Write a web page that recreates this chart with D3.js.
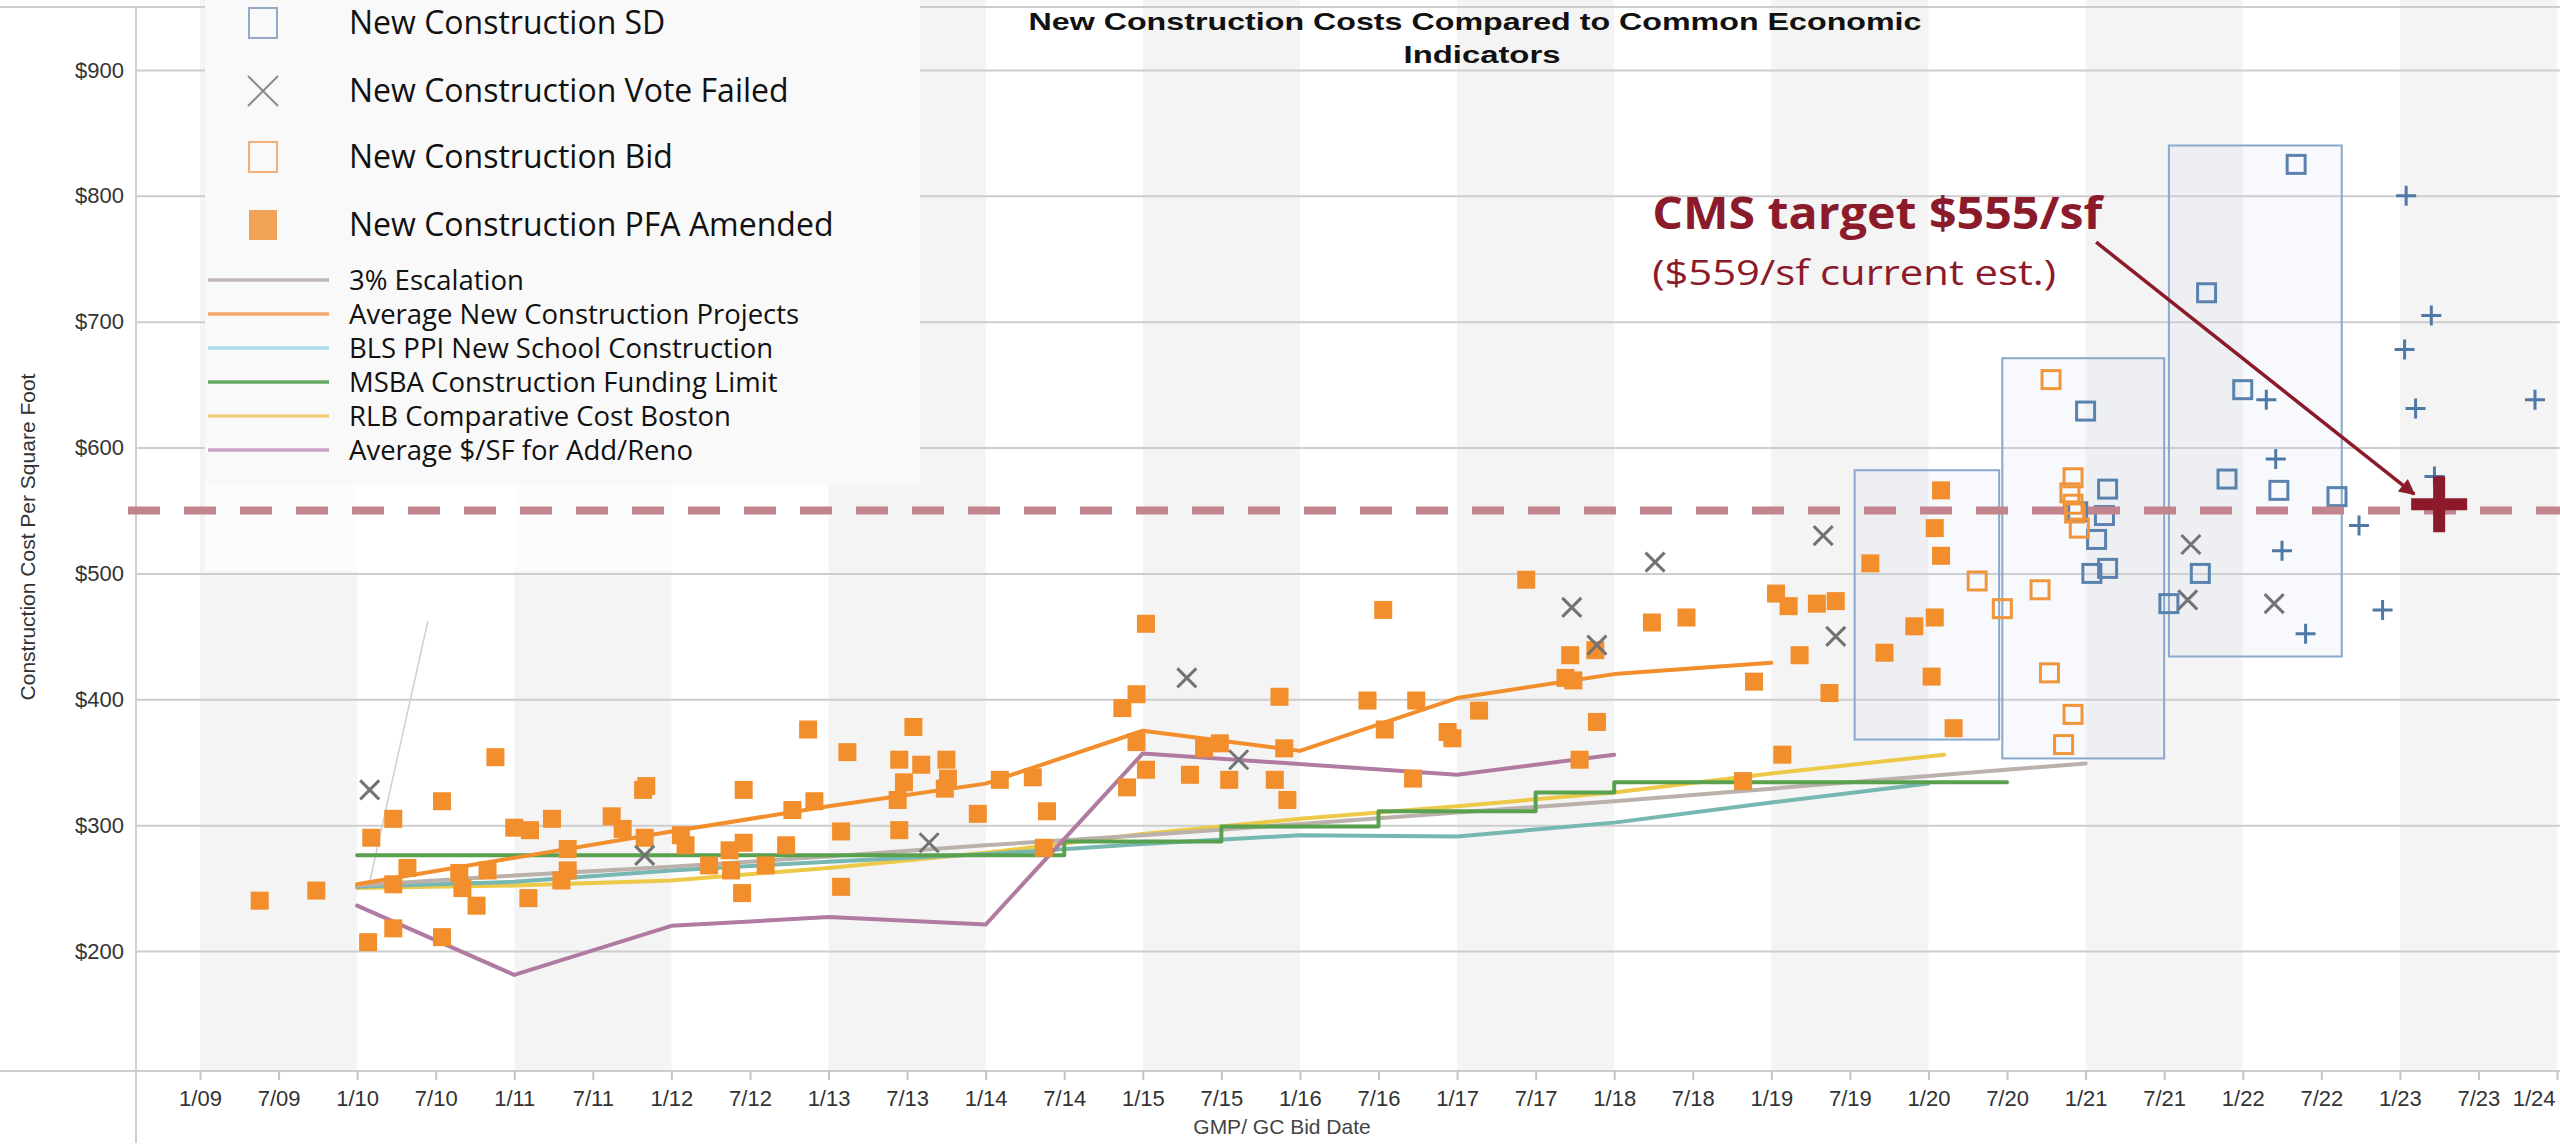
<!DOCTYPE html>
<html>
<head>
<meta charset="utf-8">
<script src="https://cdn.jsdelivr.net/npm/d3@7"></script>
<style>
  html, body { margin: 0; padding: 0; background: #fff; }
  svg { display: block; }
  .axis text { font-family: "Liberation Sans", Arial, sans-serif; font-size: 22px; fill: #333; }
  .legend text { font-family: "Open Sans", sans-serif; fill: #111; }
</style>
</head>
<body>
<div id="chart"></div>
<script>
// ticks and labels
const xTickValues = [2009, 2009.5, 2010, 2010.5, 2011, 2011.5, 2012, 2012.5, 2013, 2013.5, 2014, 2014.5,
  2015, 2015.5, 2016, 2016.5, 2017, 2017.5, 2018, 2018.5, 2019, 2019.5, 2020, 2020.5, 2021, 2021.5,
  2022, 2022.5, 2023, 2023.5, 2024];
const xTickLabels = ["1/09", "7/09", "1/10", "7/10", "1/11", "7/11", "1/12", "7/12", "1/13", "7/13", "1/14", "7/14",
  "1/15", "7/15", "1/16", "7/16", "1/17", "7/17", "1/18", "7/18", "1/19", "7/19", "1/20", "7/20", "1/21", "7/21",
  "1/22", "7/22", "1/23", "7/23", "1/24"];
const yTickValues = [200, 300, 400, 500, 600, 700, 800, 900];
const yTickLabels = ["$200", "$300", "$400", "$500", "$600", "$700", "$800", "$900"];
const shadedYears = [2009, 2011, 2013, 2015, 2017, 2019, 2021, 2023];

// scatter series: [bid date as decimal year, $ per sq ft]
const pfaAmended = [
  [2009.38, 240], [2009.74, 248], [2010.07, 207], [2010.09, 290], [2010.23, 305], [2010.23, 218], [2010.23, 253],
  [2010.32, 266], [2010.54, 319], [2010.54, 211], [2010.65, 262], [2010.67, 250], [2010.76, 236], [2010.83, 264],
  [2010.88, 354], [2011.0, 298], [2011.1, 296], [2011.09, 242], [2011.24, 305], [2011.34, 281], [2011.34, 264],
  [2011.30, 256], [2011.62, 307], [2011.69, 297], [2011.84, 331], [2011.82, 328], [2011.83, 290], [2012.06, 292],
  [2012.09, 284], [2012.24, 268], [2012.37, 280], [2012.38, 264], [2012.45, 246], [2012.46, 328], [2012.46, 286],
  [2012.6, 268], [2012.73, 284], [2012.77, 312], [2012.87, 376], [2012.91, 319], [2013.08, 295], [2013.08, 251],
  [2013.12, 358], [2013.45, 352], [2013.45, 296], [2013.44, 320], [2013.48, 334], [2013.54, 378], [2013.59, 348],
  [2013.75, 352], [2013.76, 337], [2013.74, 329], [2013.95, 309], [2014.09, 336], [2014.3, 338], [2014.39, 311],
  [2014.37, 282], [2014.87, 393], [2014.96, 404], [2015.02, 460], [2014.96, 366], [2015.02, 344], [2014.9, 330],
  [2015.39, 361], [2015.49, 365], [2015.3, 340], [2015.55, 336], [2015.87, 402], [2015.9, 361], [2015.84, 336],
  [2015.92, 320], [2016.53, 471], [2016.43, 399], [2016.54, 376], [2016.74, 399], [2016.94, 374], [2016.97, 369],
  [2016.72, 337], [2017.14, 391], [2017.44, 495], [2017.72, 435], [2017.69, 417], [2017.74, 415], [2017.88, 439],
  [2017.89, 382], [2017.78, 352], [2018.24, 461], [2018.46, 465], [2018.89, 414], [2018.82, 335], [2019.03, 484],
  [2019.11, 474], [2019.29, 476], [2019.41, 478], [2019.18, 435], [2019.37, 405], [2019.07, 356], [2019.63, 508],
  [2019.72, 437], [2019.91, 458], [2020.04, 465], [2020.02, 418], [2020.16, 377], [2020.08, 566], [2020.04, 536],
  [2020.08, 514]
];
const bidPoints = [
  [2020.78, 654], [2020.92, 576], [2020.9, 564], [2020.92, 555], [2020.93, 548], [2020.96, 536], [2020.31, 494],
  [2020.47, 472], [2020.71, 487], [2020.77, 421], [2020.92, 388], [2020.86, 364]
];
const sdPoints = [
  [2022.34, 825], [2021.77, 723], [2022.0, 646], [2021.9, 575], [2022.23, 566], [2022.6, 561], [2021.73, 500],
  [2021.53, 476], [2021.0, 629], [2021.14, 567], [2021.12, 546], [2021.07, 527], [2021.14, 504], [2021.04, 500],
  [2020.95, 549]
];
const voteFailed = [
  [2010.08, 328], [2011.83, 276], [2013.64, 286], [2015.28, 417], [2015.61, 352], [2017.73, 473], [2017.89, 443],
  [2018.26, 509], [2019.33, 530], [2019.41, 450], [2021.67, 523], [2021.65, 479], [2022.2, 476]
];
const estimatePoints = [
  [2023.04, 800], [2023.2, 705], [2023.03, 678], [2022.15, 638], [2023.1, 631], [2023.86, 638], [2022.21, 591],
  [2023.22, 577], [2022.74, 538], [2022.25, 518], [2022.89, 471], [2022.4, 452]
];
// SD range boxes: [start, end, low, high]
const sdRanges = [
  [2019.53, 2020.45, 368, 582],
  [2020.47, 2021.5, 353, 671],
  [2021.53, 2022.63, 434, 840]
];

// line series
const escalation3 = [[2010, 252], [2011, 260], [2012, 267], [2013, 275], [2014, 284], [2015, 292], [2016, 301],
  [2017, 310], [2018, 319], [2019, 329], [2020, 339], [2021, 349]];
const avgNewConstruction = [[2010, 253], [2011, 274], [2012, 295], [2013, 315], [2014, 333], [2015, 375],
  [2015.5, 367], [2016, 359], [2017, 401], [2018, 420], [2019, 429]];
const blsPpi = [[2010, 251], [2011, 255], [2012, 264], [2013, 271], [2014, 277], [2015, 285], [2016, 292],
  [2017, 291], [2018, 302], [2019, 318], [2020, 333]];
const msbaLimit = [[2010, 276], [2014.5, 287], [2015.5, 299], [2016.5, 311], [2017.5, 326], [2018, 334], [2020.5, 334]];
const rlbBoston = [[2010, 250], [2011, 252], [2012, 256], [2013, 266], [2014, 278], [2015, 293], [2016, 305],
  [2017, 315], [2018, 326], [2019, 341], [2020.1, 356]];
const avgAddReno = [[2010, 236], [2011, 181], [2012, 220], [2013, 227], [2014, 221], [2015, 357], [2017, 340], [2018, 356]];

const targetLineValue = 550;
const targetPoint = [2023.25, 555];
const leaderStub = [[2010.08, 255], [2010.45, 462]];

const legendMarkerLabels = ["New Construction SD", "New Construction Vote Failed", "New Construction Bid", "New Construction PFA Amended"];
const legendLineLabels = ["3% Escalation", "Average New Construction Projects", "BLS PPI New School Construction",
  "MSBA Construction Funding Limit", "RLB Comparative Cost Boston", "Average $/SF for Add/Reno"];

const titleLines = ["New Construction Costs Compared to Common Economic", "Indicators"];
const annotationTitle = "CMS target $555/sf";
const annotationNote = "($559/sf current est.)";

const COLORS = {
  orange: "#f28e2b", blue: "#4e79a7", gray: "#bab0ac", teal: "#76b7b2", green: "#59a14f",
  yellow: "#edc948", purple: "#b07aa1", vote: "#737373", target: "#8b1a2b", dash: "#c2858d"
};

let svg = null, x = null, y = null;
const W = 2560, H = 1146;
const plotLeft = 136, plotRight = 2557, axisY = 1071;

renderChart();

function renderChart() {
  svg = d3.select("#chart").append("svg").attr("width", W).attr("height", H);
  x = d3.scaleLinear().domain([2009, 2024]).range([200, 2557]);
  y = d3.scaleLinear().domain([200, 900]).range([951, 70]);

  appendBands();
  appendGrid();
  appendXAxis();
  appendRanges();
  appendLines();
  appendMarkers();
  appendTarget();
  appendLegend();
  appendTitles();
}

function appendBands() {
  svg.append("g").selectAll("rect").data(shadedYears).join("rect")
    .attr("x", d => x(d)).attr("y", 0)
    .attr("width", d => x(d + 1) - x(d)).attr("height", axisY)
    .attr("fill", "#f4f4f4");
  // pasted-over patch below the legend
  svg.append("rect").attr("x", 205).attr("y", 485).attr("width", 555).attr("height", 86)
    .attr("fill", "#fff").attr("opacity", 0.7);
}

function appendGrid() {
  const g = svg.append("g").attr("class", "axis").attr("transform", `translate(${plotLeft},0)`)
    .call(d3.axisLeft(y).tickValues(yTickValues).tickFormat((d, i) => yTickLabels[i])
      .tickSize(-(W - plotLeft)).tickPadding(12));
  g.select(".domain").remove();
  g.selectAll(".tick line").attr("stroke", "#cdcdcd").attr("stroke-width", 2);

  // frame lines
  svg.append("line").attr("x1", 0).attr("x2", W).attr("y1", 7).attr("y2", 7)
    .attr("stroke", "#cdcdcd").attr("stroke-width", 2);
  svg.append("line").attr("x1", plotLeft).attr("x2", plotLeft).attr("y1", 7).attr("y2", 1143)
    .attr("stroke", "#d0d0d0").attr("stroke-width", 2);
  svg.append("line").attr("x1", 0).attr("x2", W).attr("y1", axisY).attr("y2", axisY)
    .attr("stroke", "#cdcdcd").attr("stroke-width", 2);

  svg.append("line")
    .attr("x1", x(leaderStub[0][0])).attr("y1", y(leaderStub[0][1]))
    .attr("x2", x(leaderStub[1][0])).attr("y2", y(leaderStub[1][1]))
    .attr("stroke", "#cfcfcf").attr("stroke-width", 1.5);
}

function appendXAxis() {
  const g = svg.append("g").attr("class", "axis").attr("transform", `translate(0,${axisY})`)
    .call(d3.axisBottom(x).tickValues(xTickValues).tickFormat((d, i) => xTickLabels[i])
      .tickSize(9).tickPadding(10));
  g.select(".domain").remove();
  g.selectAll(".tick line").attr("stroke", "#c4c4c4").attr("stroke-width", 2);
  g.selectAll(".tick text").filter(d => d === 2024).attr("text-anchor", "end").attr("dx", -2);

  svg.append("text")
    .attr("x", 1282).attr("y", 1134)
    .attr("text-anchor", "middle")
    .style("font-family", "Liberation Sans, Arial, sans-serif").style("font-size", "21px").style("fill", "#444")
    .text("GMP/ GC Bid Date");

  svg.append("text")
    .attr("transform", "translate(35,537) rotate(-90)")
    .attr("text-anchor", "middle")
    .style("font-family", "Liberation Sans, Arial, sans-serif").style("font-size", "21px").style("fill", "#333")
    .text("Construction Cost Per Square Foot");
}

function appendRanges() {
  svg.append("g").selectAll("rect").data(sdRanges).join("rect")
    .attr("x", d => x(d[0])).attr("y", d => y(d[3]))
    .attr("width", d => x(d[1]) - x(d[0])).attr("height", d => y(d[2]) - y(d[3]))
    .attr("fill", "rgba(205,216,232,0.14)")
    .attr("stroke", "#88a8cc").attr("stroke-width", 2);
}

function appendLines() {
  const line = d3.line().x(d => x(d[0])).y(d => y(d[1]));
  const stepLine = d3.line().x(d => x(d[0])).y(d => y(d[1])).curve(d3.curveStepAfter);
  const series = [
    [rlbBoston, COLORS.yellow, line],
    [blsPpi, COLORS.teal, line],
    [escalation3, COLORS.gray, line],
    [msbaLimit, COLORS.green, stepLine],
    [avgAddReno, COLORS.purple, line],
    [avgNewConstruction, COLORS.orange, line]
  ];
  series.forEach(s => {
    svg.append("path").datum(s[0])
      .attr("fill", "none").attr("stroke", s[1]).attr("stroke-width", 4)
      .attr("stroke-linejoin", "round").attr("stroke-linecap", "round")
      .attr("d", s[2]);
  });
}

function appendMarkers() {
  const sq = 18;
  svg.append("g").selectAll("rect").data(sdPoints).join("rect")
    .attr("x", d => x(d[0]) - sq / 2).attr("y", d => y(d[1]) - sq / 2)
    .attr("width", sq).attr("height", sq)
    .attr("fill", "none").attr("stroke", "#5a82ae").attr("stroke-width", 3);

  svg.append("g").selectAll("rect").data(bidPoints).join("rect")
    .attr("x", d => x(d[0]) - sq / 2).attr("y", d => y(d[1]) - sq / 2)
    .attr("width", sq).attr("height", sq)
    .attr("fill", "none").attr("stroke", "#f0953a").attr("stroke-width", 3);

  svg.append("g").selectAll("rect").data(pfaAmended).join("rect")
    .attr("x", d => x(d[0]) - sq / 2).attr("y", d => y(d[1]) - sq / 2)
    .attr("width", sq).attr("height", sq)
    .attr("fill", "#f28e2b");

  const xs = 9.5;
  svg.append("g").selectAll("path").data(voteFailed).join("path")
    .attr("transform", d => `translate(${x(d[0])},${y(d[1])})`)
    .attr("d", `M${-xs},${-xs}L${xs},${xs}M${-xs},${xs}L${xs},${-xs}`)
    .attr("stroke", COLORS.vote).attr("stroke-width", 3).attr("fill", "none");

  const ps = 10;
  svg.append("g").selectAll("path").data(estimatePoints).join("path")
    .attr("transform", d => `translate(${x(d[0])},${y(d[1])})`)
    .attr("d", `M${-ps},0H${ps}M0,${-ps}V${ps}`)
    .attr("stroke", COLORS.blue).attr("stroke-width", 3).attr("fill", "none");
}

function appendTarget() {
  svg.append("line")
    .attr("x1", 128).attr("x2", W)
    .attr("y1", y(targetLineValue)).attr("y2", y(targetLineValue))
    .attr("stroke", COLORS.dash).attr("stroke-width", 8)
    .attr("stroke-dasharray", "32 24");

  const tx = x(targetPoint[0]), ty = y(targetPoint[1]);
  svg.append("path")
    .attr("d", `M${tx - 28},${ty}H${tx + 28}M${tx},${ty - 28}V${ty + 28}`)
    .attr("stroke", COLORS.target).attr("stroke-width", 12).attr("fill", "none");

  svg.append("defs").append("marker")
    .attr("id", "arrow").attr("viewBox", "0 0 10 10")
    .attr("refX", 9).attr("refY", 5)
    .attr("markerUnits", "userSpaceOnUse")
    .attr("markerWidth", 22).attr("markerHeight", 16)
    .attr("orient", "auto")
    .append("path").attr("d", "M0,0L10,5L0,10z").attr("fill", COLORS.target);

  svg.append("line")
    .attr("x1", tx - 343).attr("y1", ty - 262)
    .attr("x2", tx - 25).attr("y2", ty - 10)
    .attr("stroke", COLORS.target).attr("stroke-width", 3.5)
    .attr("marker-end", "url(#arrow)");

  svg.append("text")
    .attr("x", tx - 787).attr("y", ty - 275)
    .attr("textLength", 450).attr("lengthAdjust", "spacingAndGlyphs")
    .style("font-family", "Open Sans, sans-serif").style("font-weight", "bold").style("font-size", "44px")
    .style("fill", COLORS.target)
    .text(annotationTitle);

  svg.append("text")
    .attr("x", tx - 787).attr("y", ty - 219)
    .attr("textLength", 404).attr("lengthAdjust", "spacingAndGlyphs")
    .style("font-family", "Open Sans, sans-serif").style("font-size", "35px")
    .style("fill", COLORS.target)
    .text(annotationNote);
}

function appendLegend() {
  const legend = svg.append("g").attr("class", "legend");
  legend.append("rect").attr("x", 205).attr("y", 0).attr("width", 715).attr("height", 485).attr("fill", "#f9f9f9");

  const rowY = [23, 91, 157, 225];
  const mx = 263;
  // SD
  legend.append("rect").attr("x", mx - 14).attr("y", rowY[0] - 15).attr("width", 28).attr("height", 30)
    .attr("fill", "none").attr("stroke", "#93aacb").attr("stroke-width", 2);
  // Vote failed
  legend.append("path")
    .attr("d", `M${mx - 15},${rowY[1] - 15}L${mx + 15},${rowY[1] + 15}M${mx - 15},${rowY[1] + 15}L${mx + 15},${rowY[1] - 15}`)
    .attr("stroke", "#8c8c8c").attr("stroke-width", 2);
  // Bid
  legend.append("rect").attr("x", mx - 14).attr("y", rowY[2] - 15).attr("width", 28).attr("height", 30)
    .attr("fill", "none").attr("stroke", "#f2b07a").attr("stroke-width", 2);
  // PFA
  legend.append("rect").attr("x", mx - 14).attr("y", rowY[3] - 15).attr("width", 28).attr("height", 30)
    .attr("fill", "#f0a357");

  legend.selectAll("text.mk").data(legendMarkerLabels).join("text")
    .attr("class", "mk")
    .attr("x", 349).attr("y", (d, i) => rowY[i] + 11)
    .style("font-size", "32px")
    .text(d => d);

  const lineColors = ["#bfb6b2", "#f3aa6c", "#a8dce8", "#62a862", "#f0cf80", "#c9a2c3"];
  const lineY = [280, 314, 348, 382, 416, 450];
  legend.selectAll("line").data(legendLineLabels).join("line")
    .attr("x1", 208).attr("x2", 329)
    .attr("y1", (d, i) => lineY[i]).attr("y2", (d, i) => lineY[i])
    .attr("stroke", (d, i) => lineColors[i]).attr("stroke-width", 3.5);
  legend.selectAll("text.ln").data(legendLineLabels).join("text")
    .attr("class", "ln")
    .attr("x", 349).attr("y", (d, i) => lineY[i] + 10)
    .style("font-size", "27.5px")
    .text(d => d);
}

function appendTitles() {
  const t = svg.append("g")
    .style("font-family", "Liberation Sans, Arial, sans-serif").style("font-weight", "bold")
    .style("font-size", "24px").style("fill", "#111");
  t.append("text").attr("x", 1475).attr("y", 30).attr("text-anchor", "middle")
    .attr("textLength", 893).attr("lengthAdjust", "spacingAndGlyphs").text(titleLines[0]);
  t.append("text").attr("x", 1482).attr("y", 63).attr("text-anchor", "middle")
    .attr("textLength", 157).attr("lengthAdjust", "spacingAndGlyphs").text(titleLines[1]);
}
</script>
</body>
</html>
